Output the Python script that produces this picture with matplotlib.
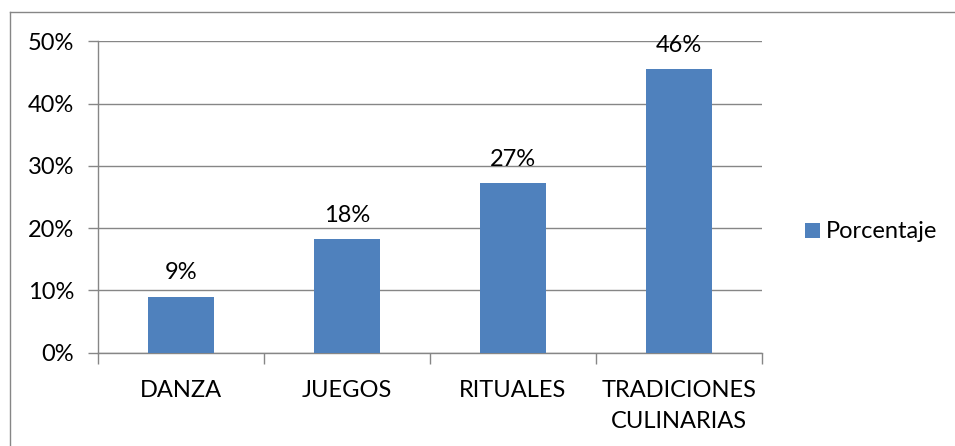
import matplotlib
matplotlib.use("Agg")
import matplotlib.pyplot as plt
from matplotlib.lines import Line2D

categories = ["DANZA", "JUEGOS", "RITUALES", "TRADICIONES\nCULINARIAS"]
values = [0.09, 0.182, 0.272, 0.455]
value_labels = ["9%", "18%", "27%", "46%"]
yticks = [0, 0.1, 0.2, 0.3, 0.4, 0.5]
ytick_labels = ["0%", "10%", "20%", "30%", "40%", "50%"]
series_name = "Porcentaje"

plt.rcParams['font.family'] = ['Lato', 'DejaVu Sans']
FS = 17
GRAY = "#868686"
BLUE = "#4F81BD"

W, H = 955, 446
fig = plt.figure(figsize=(W / 100, H / 100), dpi=100)
fig.patch.set_facecolor("white")

left, right, top, bottom = 97.7, 762, 41.3, 352.7
ax = fig.add_axes([left / W, 1 - bottom / H, (right - left) / W, (bottom - top) / H])

x = list(range(len(categories)))
bars = ax.bar(x, values, width=0.4, color=BLUE, label=series_name, zorder=3)

for xi, v, lab in zip(x, values, value_labels):
    ax.annotate(lab, (xi, v), xytext=(0, 9.5), textcoords="offset points",
                ha="center", va="bottom", fontsize=FS, color="black")

ax.set_xlim(-0.5, len(categories) - 0.5)
ax.set_ylim(0, 0.5)
ax.set_yticks(yticks)
ax.set_yticklabels(ytick_labels, fontsize=FS)
ax.set_xticks(x)
ax.set_xticklabels(categories, fontsize=FS, linespacing=1.62)
ax.set_xticks([i - 0.5 for i in range(len(categories) + 1)], minor=True)

ax.tick_params(axis="y", which="major", length=7, width=1, color=GRAY, pad=10)
ax.tick_params(axis="x", which="major", length=0, pad=19.5)
ax.tick_params(axis="x", which="minor", length=8, width=1, color=GRAY)

ax.grid(axis="y", color=GRAY, linewidth=1, zorder=0)
for s in ["top", "right"]:
    ax.spines[s].set_visible(False)
for s in ["left", "bottom"]:
    ax.spines[s].set_color(GRAY)
    ax.spines[s].set_linewidth(1)

# outer chart frame (only top and left visible within image)
fig.add_artist(Line2D([10 / W, 10 / W], [1 - 11.5 / H, -0.1], transform=fig.transFigure,
                      color=GRAY, linewidth=1))
fig.add_artist(Line2D([10 / W, 1.1], [1 - 11.5 / H, 1 - 11.5 / H], transform=fig.transFigure,
                      color=GRAY, linewidth=1))

fig.legend(handles=[bars], labels=[series_name], loc="center left",
           bbox_to_anchor=(805 / W, 1 - 232 / H), bbox_transform=fig.transFigure,
           frameon=False, borderpad=0, borderaxespad=0, fontsize=FS,
           handlelength=0.62, handleheight=0.62, handletextpad=0.28)

fig.savefig("out.png", dpi=100, facecolor="white")
